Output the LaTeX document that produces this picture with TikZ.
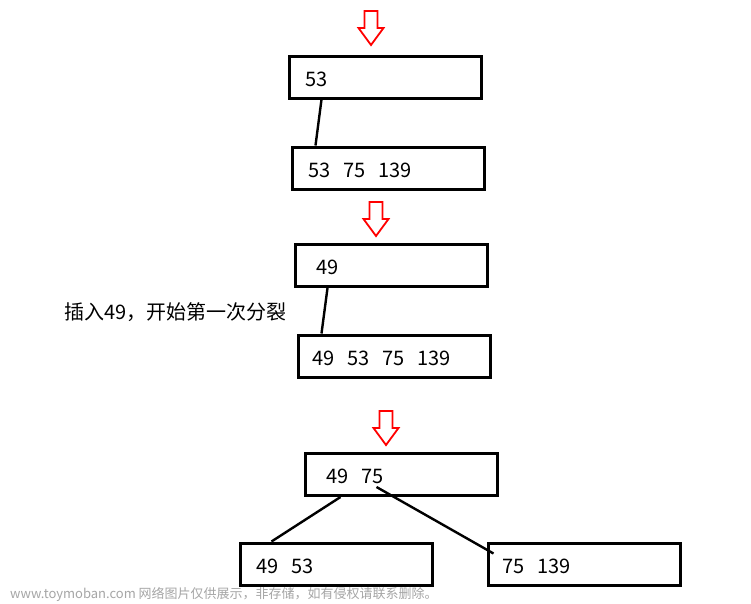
\documentclass[tikz,border=0pt]{standalone}
\usepackage{fontspec}
\setmainfont{Noto Sans CJK SC}
\newcommand\gap{\hspace{13pt}}
\tikzset{
  keybox/.style={draw, line width=3pt, minimum height=42pt, minimum width=192pt,
    inner xsep=#1, text width=192pt-2*#1, align=left, text height=18pt, text depth=0pt,
    font=\fontsize{20}{22}\selectfont},
  keybox/.default=16pt,
  link/.style={line width=2.4pt},
  pics/insarrow/.style={code={
    \draw[red, line width=1.8pt, line join=miter]
      (-6.5,0) -- (6.5,0) -- (6.5,17) -- (12.5,17) -- (0,34) -- (-12.5,17) -- (-6.5,17) -- cycle;
  }}
}
\begin{document}
\begin{tikzpicture}[x=1pt,y=-1pt]
\useasboundingbox[fill=white] (0,0) rectangle (751,603);
% insert arrows
\pic at (371,11) {insarrow};
\pic at (376,202) {insarrow};
\pic at (386,411) {insarrow};
% first stage
\node[keybox] (b1) at (385,77) {53};
\node[keybox] (b2) at (388,168) {53\gap75\gap139};
\draw[link] ([xshift=34pt]b1.south west) -- ([xshift=25pt]b2.north west);
% second stage
\node[keybox=21pt] (b3) at (391,265.5) {49};
\node[keybox=14pt] (b4) at (394,356) {49\gap53\gap75\gap139};
\draw[link] ([xshift=34pt]b3.south west) -- ([xshift=25pt]b4.north west);
\node[anchor=west, inner sep=0pt, font=\fontsize{20}{22}\selectfont] (note) at (64,312) {插入49，开始第一次分裂};
% after split
\node[keybox=21pt] (b5) at (401,474.5) {49\gap75};
\node[keybox] (b6) at (336,564) {49\gap53};
\node[keybox=14pt] (b7) at (584,564) {75\gap139};
\draw[link] ([xshift=37pt]b5.south west) -- ([xshift=33pt]b6.north west);
\draw[link] ([xshift=73pt,yshift=10pt]b5.south west) -- ([xshift=7pt,yshift=-12pt]b7.north west);
% watermark
\node[anchor=west, inner sep=0pt, text=gray!70, font=\fontsize{13}{15}\selectfont] (mark) at (10,594) {www.toymoban.com 网络图片仅供展示，非存储，如有侵权请联系删除。};
\end{tikzpicture}
\end{document}
